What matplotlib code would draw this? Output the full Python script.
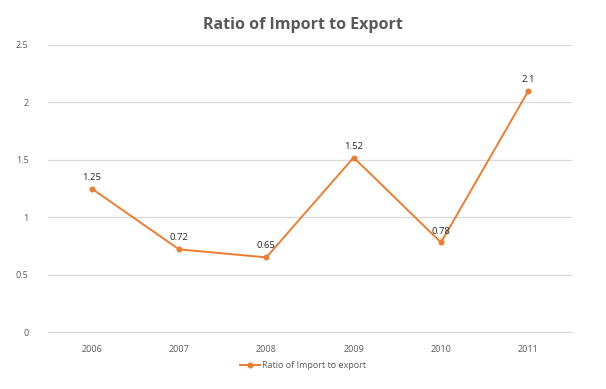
import matplotlib
matplotlib.use('Agg')
import matplotlib.pyplot as plt

years = ['2006', '2007', '2008', '2009', '2010', '2011']
ratio = [1.25, 0.72, 0.65, 1.52, 0.78, 2.1]
yticks = [0, 0.5, 1, 1.5, 2, 2.5]

plt.rcParams['font.family'] = ['Open Sans', 'DejaVu Sans']

fig = plt.figure(figsize=(6.06, 3.89), dpi=100)
ax = fig.add_axes([48/606, 57/389, 524/606, 287/389])

x = list(range(len(years)))
line, = ax.plot(x, ratio, color='#ED7D31', linewidth=1.4, marker='o', markersize=3.3,
                label='Ratio of Import to export')

for xi, v in zip(x, ratio):
    ax.annotate(str(v), (xi, v), xytext=(0, 5), textcoords='offset points',
                ha='center', va='bottom', fontsize=6.8, color='#262626')

ax.set_xlim(-0.5, len(years) - 0.5)
ax.set_ylim(0, 2.5)
ax.set_xticks(x)
ax.set_xticklabels(years)
ax.set_yticks(yticks)
ax.set_yticklabels(['0', '0.5', '1', '1.5', '2', '2.5'])
ax.tick_params(axis='both', length=0, labelsize=6.5, labelcolor='#595959')
ax.tick_params(axis='x', pad=9)
ax.tick_params(axis='y', pad=14)
ax.grid(axis='y', color='#D9D9D9', linewidth=0.9)
ax.set_axisbelow(True)
for s in ['top', 'right', 'left']:
    ax.spines[s].set_visible(False)
ax.spines['bottom'].set_color('#D9D9D9')
ax.spines['bottom'].set_linewidth(0.9)

fig.text(0.5, 1 - 25/389, 'Ratio of Import to Export', ha='center', va='center',
         fontsize=11.5, fontweight='bold', color='#595959')

fig.legend(handles=[line], loc='center', bbox_to_anchor=(0.5, 1 - 366/389),
           frameon=False, fontsize=6.5, labelcolor='#595959', handlelength=2.2,
           handletextpad=0.2)

fig.savefig('out.png', dpi=100)
